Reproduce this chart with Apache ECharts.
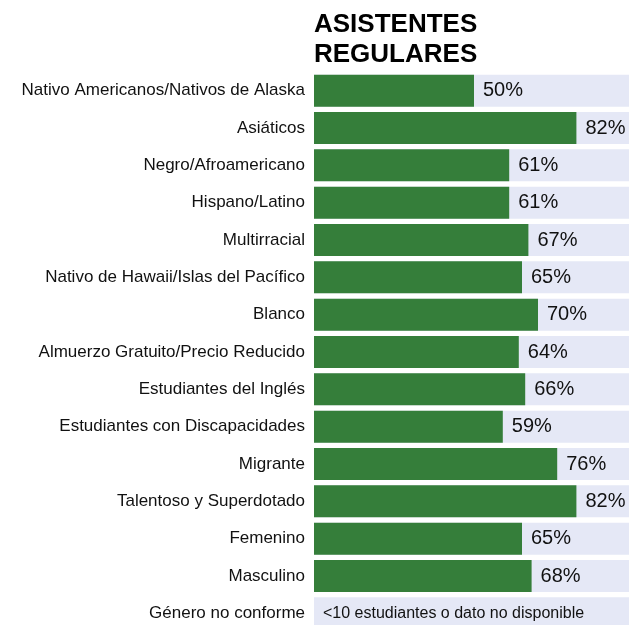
<!DOCTYPE html>
<html>
<head>
<meta charset="utf-8">
<script src="https://cdn.jsdelivr.net/npm/echarts@6/dist/echarts.min.js"></script>
<style>
  html, body { margin: 0; padding: 0; background: #fff; overflow: hidden; }
  #chart { width: 640px; height: 640px; }
</style>
</head>
<body>
<div id="chart"></div>
<script>
// categorías (de arriba hacia abajo)
const categories = [
  "Nativo Americanos/Nativos de Alaska",
  "Asiáticos",
  "Negro/Afroamericano",
  "Hispano/Latino",
  "Multirracial",
  "Nativo de Hawaii/Islas del Pacífico",
  "Blanco",
  "Almuerzo Gratuito/Precio Reducido",
  "Estudiantes del Inglés",
  "Estudiantes con Discapacidades",
  "Migrante",
  "Talentoso y Superdotado",
  "Femenino",
  "Masculino",
  "Género no conforme"
];
// porcentaje de asistentes regulares (null = sin dato)
const values = [50, 82, 61, 61, 67, 65, 70, 64, 66, 59, 76, 82, 65, 68, null];
const fullScale = categories.map(() => 100);
const noDataText = "<10 estudiantes o dato no disponible";

const chart = echarts.init(document.getElementById("chart"));
chart.setOption({
  animation: false,
  textStyle: { fontFamily: "Liberation Sans, Arial, sans-serif" },
  title: {
    text: "ASISTENTES\nREGULARES",
    left: 314,
    top: 10,
    padding: 0,
    textStyle: {
      fontSize: 26,
      fontWeight: "bold",
      color: "#000",
      lineHeight: 30,
      fontFamily: "Liberation Sans, Arial, sans-serif"
    }
  },
  grid: { left: 314, top: 72, width: 320, height: 560, containLabel: false },
  xAxis: {
    type: "value",
    min: 0,
    max: 100,
    show: false
  },
  yAxis: {
    type: "category",
    data: categories,
    inverse: true,
    axisLine: { show: false },
    axisTick: { show: false },
    axisLabel: {
      color: "#111",
      fontSize: 17,
      margin: 9
    }
  },
  series: [
    {
      // fondo gris-lavanda
      type: "bar",
      data: fullScale,
      barWidth: 32,
      barGap: "-100%",
      silent: true,
      itemStyle: { color: "#e5e8f6" },
      label: {
        show: true,
        position: "insideLeft",
        distance: 9,
        fontSize: 16,
        color: "#111",
        formatter: (p) => (values[p.dataIndex] == null ? noDataText : "")
      },
      z: 1
    },
    {
      type: "bar",
      data: values,
      barWidth: 32,
      itemStyle: { color: "#357e3a" },
      label: {
        show: true,
        position: "right",
        distance: 9,
        fontSize: 20,
        color: "#111",
        formatter: "{c}%"
      },
      z: 2
    }
  ]
});
</script>
</body>
</html>
